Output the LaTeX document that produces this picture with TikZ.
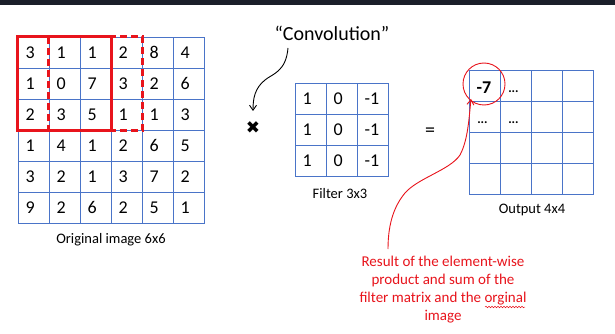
\documentclass[tikz,border=0pt]{standalone}
\usepackage{fontspec}
\setmainfont{Carlito}
\newfontfamily\dejavu{DejaVu Sans}
\usetikzlibrary{arrows.meta,decorations.pathmorphing,calc}
\definecolor{gridblue}{HTML}{4A74C8}
\definecolor{myred}{HTML}{E8141C}
\definecolor{topbar}{HTML}{1B1F2A}
\begin{document}
\begin{tikzpicture}[x=1pt,y=-1pt,
  cell/.style={draw=gridblue,line width=0.9pt,minimum width=31pt,minimum height=31pt,
    text width=16pt,align=left,inner xsep=7.5pt,inner ysep=0pt,
    font=\fontsize{18}{18}\selectfont},
  lbl/.style={font=\fontsize{14.5}{16}\selectfont,inner sep=0pt},
  dots/.style={font=\fontsize{13}{13}\selectfont\bfseries,inner sep=0pt,anchor=west},
  redbox/.style={draw=myred,line width=2.6pt},
  conn/.style={-{Straight Barb[length=5pt,width=7pt]},line width=0.9pt},
]
\useasboundingbox (0,0) rectangle (615,334);
\fill[white] (0,0) rectangle (615,334);
\fill[topbar] (0,0) rectangle (615,5);

% original image 6x6
\foreach \row [count=\i from 0] in {{3,1,1,2,8,4},{1,0,7,3,2,6},{2,3,5,1,1,3},{1,4,1,2,6,5},{3,2,1,3,7,2},{9,2,6,2,5,1}} {
  \foreach \v [count=\j from 0] in \row {
    \node[cell] (o-\i-\j) at ({33.5+31*\j},{52.5+31*\i}) {\v};
  }
}
\draw[redbox] (o-0-0.north west) rectangle (o-2-2.south east);
\draw[redbox,dash pattern=on 7pt off 4pt] (o-0-1.north west) rectangle (o-2-3.south east);
\node[lbl] (olabel) at (111,240) {Original image 6x6};

% filter 3x3
\foreach \i in {0,1,2} {
  \node[cell] (f-\i-0) at ({310.5},{98.5+31*\i}) {1};
  \node[cell] (f-\i-1) at ({341.5},{98.5+31*\i}) {0};
  \node[cell] (f-\i-2) at ({372.5},{98.5+31*\i}) {-1};
}
\node[lbl] (flabel) at (340,194) {Filter 3x3};

% output 4x4
\foreach \i in {0,1,2,3} {
  \foreach \j in {0,1,2,3} {
    \node[cell] (r-\i-\j) at ({484.5+31*\j},{85.5+31*\i}) {};
  }
}
\node[font=\fontsize{18}{18}\selectfont\bfseries,anchor=west,inner sep=0pt] (m7) at (476.5,87.5) {-7};
\node[dots] (d1) at ($(r-0-1.west)+(8.5,6)$) {...};
\node[dots] (d2) at ($(r-1-0.west)+(8.5,6)$) {...};
\node[dots] (d3) at ($(r-1-1.west)+(8.5,6)$) {...};
\node[lbl] (rlabel) at (532,210) {Output 4x4};

% operators
\node[font=\dejavu\fontsize{17}{17}\selectfont,inner sep=0pt] (times) at (253,128) {✖};
\node[font=\fontsize{20}{20}\selectfont,inner sep=0pt] (eq) at (430,132) {=};

% convolution label and arrow
\node[font=\fontsize{20}{20}\selectfont,inner sep=0pt] (conv) at (332,33) {“Convolution”};
\coordinate (cstart) at (288,48);
\coordinate (cend) at (253,111);
\draw[conn] (cstart) .. controls (286,72) and (272,74) .. (265,80)
  .. controls (255,88) and (253,98) .. (cend);

% red circle and annotation
\node[draw=myred,line width=0.9pt,circle,minimum size=42pt,inner sep=0pt] (circ) at (484,84) {};
\node[text=myred,align=center,inner sep=0pt,font=\fontsize{15}{18}\selectfont] (note) at (443,290)
  {Result of the element-wise\\product and sum of the\\filter matrix and the orginal\\image};
\coordinate (nstart) at (388,249);
\coordinate (nend) at (471,99);
\draw[conn,draw=myred] (nstart) .. controls (388,222) and (395,205) .. (405,193)
  .. controls (418,178) and (450,170) .. (460,155)
  .. controls (468,140) and (469,118) .. (nend);
\draw[myred,line width=0.5pt,decorate,decoration={snake,amplitude=0.8pt,segment length=3pt}]
  (485,307) -- (525,307);
\end{tikzpicture}
\end{document}
